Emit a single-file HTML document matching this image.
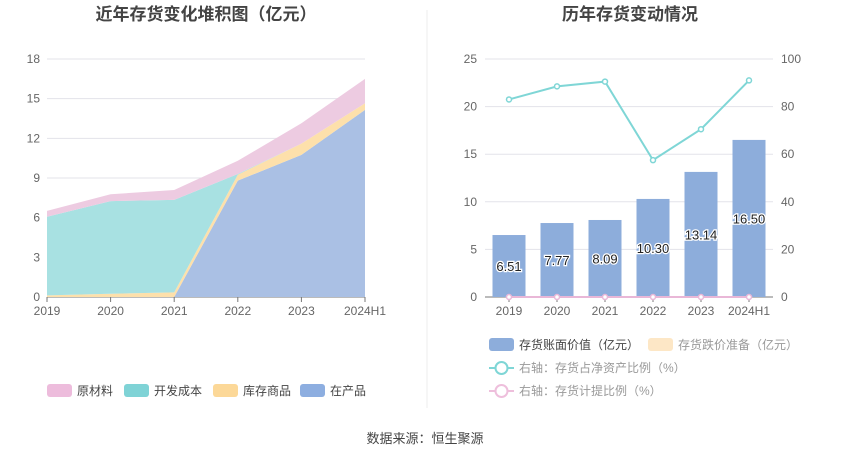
<!DOCTYPE html>
<html><head><meta charset="utf-8"><style>
body{margin:0;background:#fff;width:850px;height:459px;overflow:hidden;font-family:"Liberation Sans","Noto Sans CJK SC",sans-serif}
svg text{font-family:"Liberation Sans","Noto Sans CJK SC",sans-serif}
</style></head><body>
<svg id="s" width="850" height="459" xmlns="http://www.w3.org/2000/svg">
<text x="206" y="20" font-size="17" font-weight="bold" fill="#444" text-anchor="middle">近年存货变化堆积图（亿元）</text>
<text x="630" y="20" font-size="17" font-weight="bold" fill="#444" text-anchor="middle">历年存货变动情况</text>
<line x1="427" y1="10" x2="427" y2="408" stroke="#eee"/>
<g id="L"></g><g id="R"></g>
<text x="425" y="443" font-size="13" fill="#444" text-anchor="middle">数据来源：恒生聚源</text>
</svg>
<script>
const years=["2019","2020","2021","2022","2023","2024H1"];
const wip=[0,0,0,8.8,10.75,14.15];
const goods=[0.12,0.25,0.35,0.45,0.85,0.5];
const devCost=[5.95,7.0,7.0,0.05,0,0];
const raw=[0.44,0.52,0.74,1.0,1.54,1.85];
const leftTicks=[0,3,6,9,12,15,18];
const bookValue=[6.51,7.77,8.09,10.30,13.14,16.50];
const ratio=[83,88.5,90.5,57.5,70.5,91];
const provision=[0,0,0,0,0,0];
const rTicksL=[0,5,10,15,20,25];
const rTicksR=[0,20,40,60,80,100];
const NS="http://www.w3.org/2000/svg";
function mk(p,t,a,txt){const e=document.createElementNS(NS,t);for(const k in a)e.setAttribute(k,a[k]);if(txt!=null)e.textContent=txt;p.appendChild(e);return e;}
// left
const L=document.getElementById('L');
const lx=i=>47+i*(365-47)/(years.length-1), ly=v=>297-v*(297-59)/18;
leftTicks.forEach(t=>{const g=mk(L,'line',{x1:47,x2:365,y1:ly(t),y2:ly(t),stroke:t?'#e3e3ea':'#777'});

const tx=mk(L,'text',{x:40,y:ly(t)+4,'font-size':12,fill:'#666','text-anchor':'end'},t);
});
const series=[[wip,'#aac0e4','在产品'],[goods,'#fde0ab','库存商品'],[devCost,'#a8e1e2','开发成本'],[raw,'#edcbe1','原材料']];
let base=years.map(()=>0);
series.forEach(([d,c,n])=>{const top=base.map((b,i)=>b+d[i]);
let pts=top.map((v,i)=>lx(i)+','+ly(v)).join(' ')+' '+base.map((v,i)=>lx(i)+','+ly(v)).reverse().join(' ');
const p=mk(L,'polygon',{points:pts,fill:c});base=top;});
years.forEach((y,i)=>{mk(L,'line',{x1:lx(i),x2:lx(i),y1:297,y2:302,stroke:'#777'});
const t=mk(L,'text',{x:lx(i),y:315,'font-size':12,fill:'#666','text-anchor':'middle'},y);
});
const legL=[['原材料','#edbcdc',47],['开发成本','#7fd3d6',124],['库存商品','#fcd898',213],['在产品','#8daee0',300]];
legL.forEach(([n,c,x])=>{const g=mk(L,'g',{});
mk(g,'rect',{x:x,y:384,width:25,height:13,rx:3,fill:c});mk(g,'text',{x:x+30,y:395,'font-size':12,fill:'#444'},n);});
// right
const R=document.getElementById('R');
const rx=i=>509+i*48, ryL=v=>297-v*(297-59)/25, ryR=v=>297-v*(297-59)/100;
rTicksL.forEach((t,k)=>{mk(R,'line',{x1:485,x2:773,y1:ryL(t),y2:ryL(t),stroke:t?'#e3e3ea':'#777'});
const a=mk(R,'text',{x:477,y:ryL(t)+4,'font-size':12,fill:'#666','text-anchor':'end'},t);

const b=mk(R,'text',{x:781,y:ryR(rTicksR[k])+4,'font-size':12,fill:'#666'},rTicksR[k]);
});
years.forEach((y,i)=>{const b=mk(R,'rect',{x:rx(i)-16.5,y:ryL(bookValue[i]),width:33,height:297-ryL(bookValue[i]),fill:'#8daddb'});

const l=mk(R,'text',{x:rx(i),y:ryL(bookValue[i]/2)+5,'font-size':13,fill:'#222','text-anchor':'middle',stroke:'#fff','stroke-width':2.5,'paint-order':'stroke'},bookValue[i].toFixed(2));

mk(R,'line',{x1:rx(i),x2:rx(i),y1:297,y2:302,stroke:'#777'});
const t=mk(R,'text',{x:rx(i),y:315,'font-size':12,fill:'#666','text-anchor':'middle'},y);
});
[[provision,'#e9b7d7'],[ratio,'#7fd6d6']].forEach(([d,c],k)=>{const pl=mk(R,'polyline',{points:d.map((v,i)=>rx(i)+','+ryR(v)).join(' '),fill:'none',stroke:c,'stroke-width':2});

d.forEach((v,i)=>{const p=mk(R,'circle',{cx:rx(i),cy:ryR(v),r:2.5,fill:'#fff',stroke:c,'stroke-width':1.5});
});});
const legR=[[489,345,'rect','#8daddb','存货账面价值（亿元）','#444'],[648,345,'rect','#fde7c6','存货跌价准备（亿元）','#999'],[489,368,'line','#7fd6d6','右轴：存货占净资产比例（%）','#999'],[489,391,'line','#eebfdc','右轴：存货计提比例（%）','#999']];
legR.forEach(([x,y,t,c,n,tc])=>{const g=mk(R,'g',{});
if(t==='rect')mk(g,'rect',{x:x,y:y-7,width:25,height:13,rx:3,fill:c});
else{mk(g,'line',{x1:x,x2:x+25,y1:y,y2:y,stroke:c,'stroke-width':2});mk(g,'circle',{cx:x+12.5,cy:y,r:6,fill:'#fff',stroke:c,'stroke-width':2});}
mk(g,'text',{x:x+30,y:y+4,'font-size':12,fill:tc},n);});
</script>
</body></html>
